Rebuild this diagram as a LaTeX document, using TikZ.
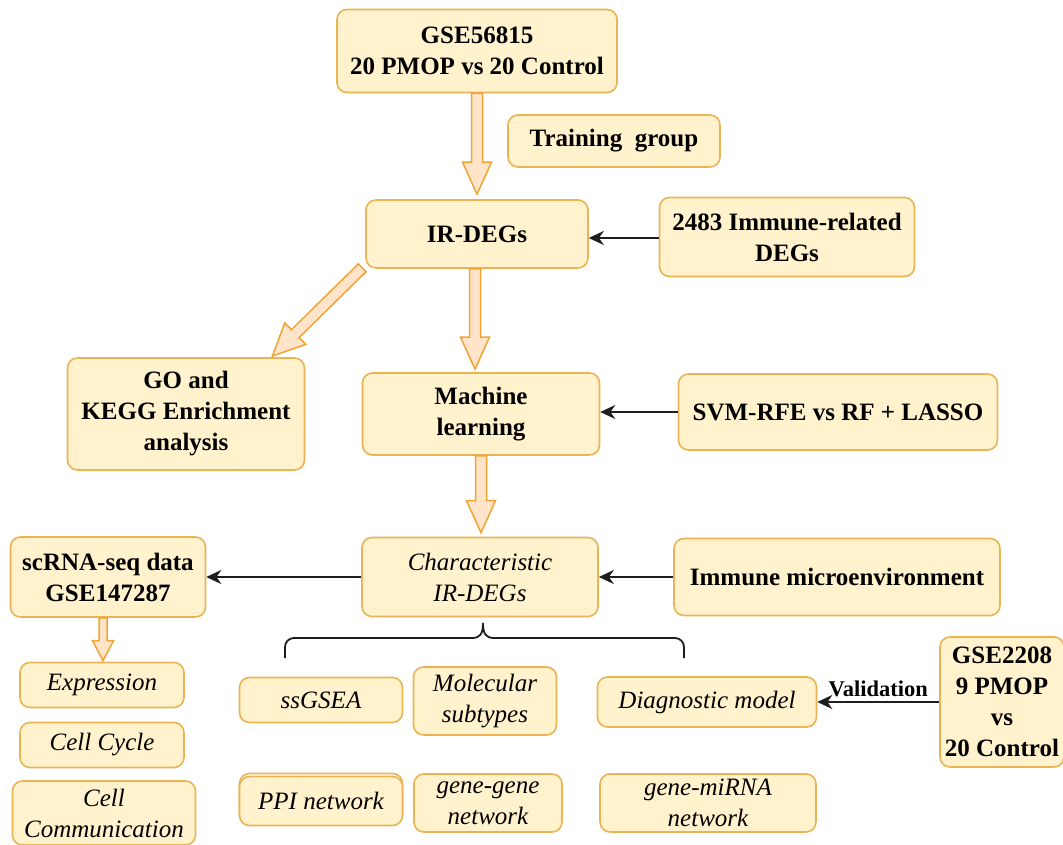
\documentclass[tikz,border=0pt]{standalone}
\usepackage{fontspec}
\newfontfamily\tnr{LiberationSerif}[Extension=.ttf, UprightFont=*-Regular, BoldFont=*-Bold, ItalicFont=*-Italic, BoldItalicFont=*-BoldItalic]
\usetikzlibrary{arrows.meta,calc}
\definecolor{boxfill}{HTML}{FFF2CC}
\definecolor{boxdraw}{HTML}{EAB454}
\definecolor{arrfill}{HTML}{FFE4CA}
\definecolor{arrdraw}{HTML}{F0A533}
\definecolor{linecol}{HTML}{1E1E1E}
\tikzset{
  box/.style={draw=boxdraw, fill=boxfill, line width=1.6pt, rounded corners=10pt,
    align=center, inner sep=0pt, font=\tnr\fontsize{25}{31}\selectfont\bfseries},
  ibox/.style={box, font=\tnr\fontsize{25}{31}\selectfont\itshape},
  barrow/.style={draw=arrdraw, fill=arrfill, line width=1.5pt, line join=miter},
  conn/.style={draw=linecol, line width=2pt, -{Stealth[length=15pt,width=14pt]}},
  bracepath/.style={draw=linecol, line width=1.8pt}
}
% block arrow: #1 start, #2 end, #3 shaft half width, #4 head half width, #5 head length
\newcommand\blockarr[5]{%
  \draw[barrow] let \p1=(#1), \p2=(#2),
    \n1={atan2(\y2-\y1,\x2-\x1)}, \n2={veclen(\x2-\x1,\y2-\y1)} in
    [shift={(\p1)}, rotate=\n1]
    (0pt,#3) -- ({\n2*1pt-#5},#3) -- ({\n2*1pt-#5},#4) -- ({\n2*1pt},0pt)
    -- ({\n2*1pt-#5},-#4) -- ({\n2*1pt-#5},-#3) -- (0pt,-#3) -- cycle;}
\begin{document}
\begin{tikzpicture}[x=1pt,y=-1pt]
\useasboundingbox (0,0) rectangle (1063,845);
\clip (0,0) rectangle (1063,845);
\fill[white] (0,0) rectangle (1063,845);

% main nodes
\node[box, minimum width=280pt, minimum height=83pt] (gse) at (477,51) {GSE56815\\20 PMOP vs 20 Control};
\node[box, minimum width=212pt, minimum height=52pt] (train) at (614,141) {Training~~group};
\node[box, minimum width=222pt, minimum height=68pt] (ir) at (477,234) {IR-DEGs};
\node[box, minimum width=255pt, minimum height=79pt] (imm) at (787,237) {2483 Immune-related\\DEGs};
\node[box, minimum width=237pt, minimum height=112pt] (go) at (186,414) {GO and\\KEGG Enrichment\\analysis};
\node[box, minimum width=237pt, minimum height=82pt] (ml) at (481,414) {Machine\\learning};
\node[box, minimum width=319pt, minimum height=76pt] (svm) at (838,412) {SVM-RFE vs RF + LASSO};
\node[ibox, minimum width=236pt, minimum height=79pt] (char) at (480,577) {Characteristic\\IR-DEGs};
\node[box, minimum width=195pt, minimum height=80pt] (sc) at (108,577) {scRNA-seq data\\GSE147287};
\node[box, minimum width=326pt, minimum height=77pt] (env) at (837,577) {Immune microenvironment};

% scRNA branch
\node[ibox, minimum width=164pt, minimum height=45pt] (expr) at (102,685) {Expression};
\node[ibox, minimum width=164pt, minimum height=45pt] (cc) at (102,745) {Cell Cycle};
\node[ibox, minimum width=183pt, minimum height=64pt] (comm) at (104,813) {Cell\\Communication};

% analyses
\node[ibox, minimum width=163pt, minimum height=45pt] (ssg) at (321,700) {ssGSEA};
\node[ibox, minimum width=143pt, minimum height=68pt] (mol) at (485,701) {Molecular\\subtypes};
\node[ibox, minimum width=219pt, minimum height=50pt] (diag) at (707,702) {Diagnostic model};
\node[box, minimum width=124pt, minimum height=130pt] (val) at (1002,702) {GSE2208\\9 PMOP\\vs\\20 Control};
\node[ibox, minimum width=163pt, minimum height=49pt,
  preaction={draw=boxdraw, line width=1.6pt, transform canvas={yshift=3pt}}] (ppi) at (321,801) {PPI network};
\node[ibox, minimum width=148pt, minimum height=58pt] (gg) at (488,803) {gene-gene\\network};
\node[ibox, minimum width=216pt, minimum height=58pt] (gm) at (708,803) {gene-miRNA\\network};

% block arrows
\blockarr{gse.south}{$(ir.north)+(0,-5)$}{5.5pt}{14.5pt}{32pt}
\blockarr{$(ir.south)+(-2,0)$}{$(ir.south |- ml.north)+(-2,-3)$}{5.5pt}{14.5pt}{32pt}
\blockarr{$(ir.south west)+(-3,-1)$}{$(go.north east)+(-33,-1)$}{5.5pt}{15pt}{32pt}
\blockarr{ml.south}{$(ml.south |- char.north)+(0,-4)$}{5.5pt}{14.5pt}{32pt}
\blockarr{$(sc.south)+(-5,0)$}{$(sc.south |- expr.north)+(-5,-1)$}{4pt}{10.5pt}{20pt}

% connectors
\draw[conn] ($(imm.west)+(0,1)$) -- ($(ir.east |- imm.west)+(0,1)$);
\draw[conn] (svm.west) -- (ml.east |- svm.west);
\draw[conn] (env.west) -- (char.east);
\draw[conn] (char.west) -- (sc.east);
\draw[conn] (val.west) -- node[above=1pt, font=\tnr\fontsize{22.5}{27}\selectfont\bfseries] (vlab) {Validation} (diag.east |- val.west);

% brace
\coordinate (bl) at (285,658);
\coordinate (br) at (684,658);
\coordinate (bt) at (483,623);
\draw[bracepath, rounded corners=9pt] (bl) -- (285,638) -- (472,638);
\draw[bracepath] (472,638) .. controls (480,638) and (483,634) .. (bt)
  .. controls (483,634) and (486,638) .. (494,638);
\draw[bracepath, rounded corners=9pt] (494,638) -- (684,638) -- (br);
\end{tikzpicture}
\end{document}
